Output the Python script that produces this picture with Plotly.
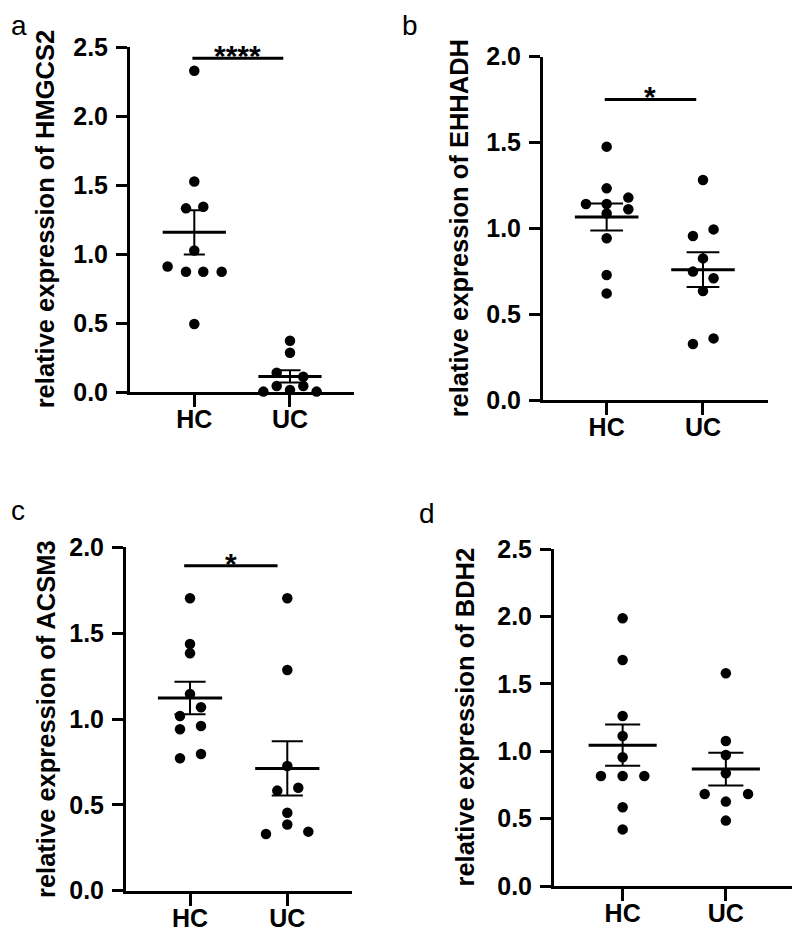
import numpy as np
import plotly.graph_objects as go

groups = ["HC", "UC"]

# Panel a: HMGCS2
a_hc = [2.33, 1.527, 1.333, 1.345, 1.027, 0.911, 0.874, 0.874, 0.874, 0.495]
a_hc_off = [0, 0, -0.087, 0.094, 0, -0.279, -0.087, 0.094, 0.286, 0]
a_uc = [0.374, 0.287, 0.142, 0.113, 0.046, 0.046, 0.005, 0.017, 0.005]
a_uc_off = [0, 0, -0.139, 0.139, -0.139, 0.139, -0.278, 0, 0.278]

# Panel b: EHHADH
b_hc = [1.476, 1.233, 1.179, 1.142, 1.142, 1.111, 1.087, 0.942, 0.728, 0.621]
b_hc_off = [0, 0, 0.225, -0.215, 0, 0.225, 0, 0, 0, 0]
b_uc = [1.282, 0.994, 0.955, 0.825, 0.748, 0.709, 0.635, 0.359, 0.326]
b_uc_off = [0, 0.11, -0.104, 0, -0.104, 0.11, 0, 0.11, -0.104]

# Panel c: ACSM3
c_hc = [1.703, 1.437, 1.383, 1.146, 1.068, 1.017, 0.959, 0.940, 0.796, 0.771]
c_hc_off = [0, 0, 0, 0, 0.113, -0.103, 0.113, -0.103, 0.113, -0.103]
c_uc = [1.703, 1.285, 0.726, 0.583, 0.600, 0.454, 0.386, 0.344, 0.330]
c_uc_off = [0, 0, 0, -0.103, 0.113, 0, 0, 0.216, -0.219]

# Panel d: BDH2
d_hc = [1.986, 1.677, 1.261, 1.113, 0.955, 0.816, 0.816, 0.816, 0.584, 0.420]
d_hc_off = [0, 0, 0, 0, 0, -0.21, 0, 0.21, 0, 0]
d_uc = [1.578, 1.076, 0.972, 0.836, 0.682, 0.682, 0.626, 0.485]
d_uc_off = [0, 0, 0, 0, -0.205, 0.215, 0, 0]

genes = ["HMGCS2", "EHHADH", "ACSM3", "BDH2"]
letters = ["a", "b", "c", "d"]
y_max = [2.5, 2.0, 2.0, 2.5]
# significance bars: (x start, x end, y level, label)
sig = [(-0.02, 0.93, 2.42, "****"), (-0.02, 0.93, 1.751, "*"), (-0.06, 0.90, 1.893, "*"), None]

panels = [
    (a_hc, a_hc_off, a_uc, a_uc_off),
    (b_hc, b_hc_off, b_uc, b_uc_off),
    (c_hc, c_hc_off, c_uc, c_uc_off),
    (d_hc, d_hc_off, d_uc, d_uc_off),
]

# page body has an 8px margin, so the figure is 792x924 placed at (8, 8)
PAD = 8
W, H = 800 - PAD, 932 - PAD
# plot-area boxes in window pixels (left, right, top, bottom)
boxes = [(130, 354, 47.3, 392.3), (543, 767.7, 56.7, 400), (126, 351.7, 547.3, 890.7), (554, 795, 549, 886)]
xranges = [(-0.672, 1.669), (-0.661, 1.672), (-0.658, 1.662), (-0.665, 1.67)]
cap_hw = [0.11, 0.17, 0.16, 0.17]
title_x = [44.5, 459, 46, 464]
# panel letters: left edge x, centre y (window pixels)
letter_pos = [(9, 25), (400, 25), (9, 510), (417, 513)]


def px(xw):
    return (xw - PAD) / W


def py(yw):
    return 1 - (yw - PAD) / H


FONT = "Liberation Sans, Arial, sans-serif"
fig = go.Figure()
annotations = []

for k, (hc, hco, uc, uco) in enumerate(panels):
    xa = "x" if k == 0 else f"x{k+1}"
    ya = "y" if k == 0 else f"y{k+1}"
    for gi, (vals, offs) in enumerate([(hc, hco), (uc, uco)]):
        v = np.array(vals)
        xs = gi + np.array(offs)
        fig.add_trace(go.Scatter(x=xs, y=v, mode="markers", xaxis=xa, yaxis=ya,
                                 marker=dict(color="black", size=10.5), cliponaxis=False,
                                 showlegend=False, hoverinfo="skip"))
        m = v.mean()
        s = v.std(ddof=1) / np.sqrt(len(v))
        # mean line
        fig.add_trace(go.Scatter(x=[gi - 0.33, gi + 0.33], y=[m, m], mode="lines",
                                 xaxis=xa, yaxis=ya, line=dict(color="black", width=3),
                                 cliponaxis=False, showlegend=False, hoverinfo="skip"))
        # SEM stem and caps
        c = cap_hw[k]
        fig.add_trace(go.Scatter(
            x=[gi, gi, None, gi - c, gi + c, None, gi - c, gi + c],
            y=[m - s, m + s, None, m + s, m + s, None, m - s, m - s],
            mode="lines", xaxis=xa, yaxis=ya, line=dict(color="black", width=2),
            cliponaxis=False, showlegend=False, hoverinfo="skip"))
    if sig[k] is not None:
        x0, x1, yl, lab = sig[k]
        fig.add_trace(go.Scatter(x=[x0, x1], y=[yl, yl], mode="lines", xaxis=xa, yaxis=ya,
                                 line=dict(color="black", width=3), cliponaxis=False,
                                 showlegend=False, hoverinfo="skip"))
        annotations.append(dict(x=(x0 + x1) / 2, y=yl, xref=xa, yref=ya, text=lab,
                                showarrow=False, yanchor="bottom", yshift=-16,
                                font=dict(family=FONT, size=30, color="black", weight="bold")))

    l, r, t, b = boxes[k]
    xdom = [px(l), px(r)]
    ydom = [py(b), py(t)]
    axis_common = dict(showline=True, linecolor="black", linewidth=3, ticks="outside",
                       tickcolor="black", tickwidth=3, showgrid=False, zeroline=False,
                       automargin=False)
    key = "" if k == 0 else str(k + 1)
    fig.update_layout(**{
        f"xaxis{key}": dict(domain=xdom, range=list(xranges[k]), tickvals=[0, 1], ticktext=groups,
                            ticklen=12, anchor=ya, ticklabelstandoff=-9,
                            tickfont=dict(family=FONT, size=25, color="black", weight="bold"),
                            **axis_common),
        f"yaxis{key}": dict(domain=ydom, range=[0, y_max[k]], dtick=0.5, tickformat=".1f",
                            ticklen=11, anchor=xa, ticklabelstandoff=3,
                            tickfont=dict(family=FONT, size=25, color="black", weight="bold"),
                            **axis_common),
    })
    annotations.append(dict(x=px(title_x[k]), y=py((t + b) / 2), xref="paper", yref="paper",
                            text=f"relative expression of {genes[k]}", textangle=-90,
                            showarrow=False, xanchor="center", yanchor="middle",
                            font=dict(family=FONT, size=25.5, color="black", weight="bold")))
    lx, ly = letter_pos[k]
    annotations.append(dict(x=px(lx), y=py(ly), xref="paper", yref="paper", text=letters[k],
                            showarrow=False, xanchor="left", yanchor="middle",
                            font=dict(family=FONT, size=28, color="black")))

fig.update_layout(width=W, height=H, margin=dict(l=0, r=0, t=0, b=0, autoexpand=False),
                  template="none",
                  paper_bgcolor="white", plot_bgcolor="white", annotations=annotations)

fig.write_html("out.html")
